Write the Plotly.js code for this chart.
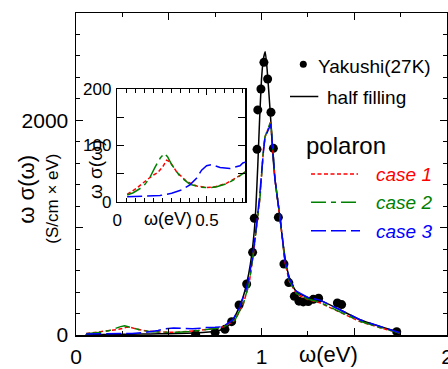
<!DOCTYPE html>
<html>
<head>
<meta charset="utf-8">
<script src="https://cdn.plot.ly/plotly-3.0.1.min.js"></script>
<style>html,body{margin:0;padding:0;background:#fff;}#plot{width:448px;height:369px;}</style>
</head>
<body>
<div id="plot"></div>
<script>
// ---- Data ----
const dotsX = [0.645, 0.75, 0.803, 0.839, 0.879, 0.92, 0.952, 0.961, 0.976, 0.98, 0.997, 1.013, 1.033, 1.051, 1.064, 1.091, 1.121, 1.147, 1.177, 1.202, 1.225, 1.252, 1.279, 1.308, 1.409, 1.432, 1.729];
const dotsY = [8, 25, 53, 124, 280, 475, 770, 1087, 1730, 2097, 2292, 2540, 2385, 2075, 1739, 1096, 661, 488, 360, 315, 308, 312, 332, 342, 298, 283, 31];

const halfX = [0.05, 0.1, 0.2, 0.3, 0.4, 0.5, 0.6, 0.7, 0.75, 0.8, 0.84, 0.88, 0.9, 0.92, 0.94, 0.96, 0.97, 0.98, 0.99, 1.0, 1.01, 1.02, 1.03, 1.04, 1.05, 1.064, 1.073, 1.1, 1.12, 1.14, 1.16, 1.19, 1.25, 1.315, 1.423, 1.531, 1.639, 1.729, 1.75];
const halfY = [0, 2, 5, 8, 10, 12, 16, 25, 35, 60, 120, 260, 350, 480, 660, 950, 1200, 1580, 2020, 2380, 2570, 2640, 2480, 2250, 2000, 1620, 1444, 1087, 800, 600, 490, 400, 350, 325, 235, 142, 80, 32, 20];

const case1X = [0.055, 0.108, 0.15, 0.182, 0.229, 0.255, 0.275, 0.294, 0.331, 0.387, 0.443, 0.498, 0.55, 0.61, 0.66, 0.70, 0.75, 0.8, 0.857, 0.902, 0.933, 0.956, 0.98, 0.992, 1.01, 1.019, 1.05, 1.064, 1.073, 1.1, 1.127, 1.15, 1.19, 1.25, 1.315, 1.423, 1.531, 1.639, 1.729, 1.75];
const case1Y = [13, 24, 35, 43, 53, 63, 74, 71, 53, 36, 28, 25, 27, 33, 42, 51, 60, 78, 138, 290, 475, 755, 1080, 1280, 1720, 1845, 1985, 1650, 1444, 1087, 675, 500, 380, 330, 300, 212, 125, 68, 25, 15];

const case2X = [0.055, 0.089, 0.145, 0.18, 0.21, 0.24, 0.262, 0.28, 0.303, 0.35, 0.405, 0.461, 0.498, 0.55, 0.61, 0.66, 0.70, 0.75, 0.8, 0.857, 0.902, 0.933, 0.956, 0.98, 0.992, 1.01, 1.019, 1.05, 1.064, 1.073, 1.1, 1.127, 1.15, 1.19, 1.25, 1.315, 1.423, 1.531, 1.639, 1.729, 1.75];
const case2Y = [12, 16, 27, 42, 61, 78, 86, 80, 66, 45, 31, 26, 25, 26, 32, 41, 50, 60, 78, 140, 292, 478, 758, 1085, 1285, 1722, 1848, 1992, 1650, 1444, 1087, 678, 505, 385, 335, 305, 215, 128, 70, 26, 15];

const case3X = [0.055, 0.145, 0.238, 0.303, 0.359, 0.405, 0.443, 0.47, 0.498, 0.526, 0.573, 0.628, 0.684, 0.70, 0.75, 0.79, 0.845, 0.88, 0.92, 0.95, 0.975, 0.99, 1.01, 1.019, 1.05, 1.064, 1.073, 1.1, 1.127, 1.15, 1.19, 1.25, 1.315, 1.423, 1.531, 1.639, 1.729, 1.75];
const case3Y = [9, 10, 11, 15, 21, 30, 42, 56, 64, 66, 61, 59, 64, 69, 72, 77, 140, 250, 440, 700, 1050, 1300, 1700, 1840, 1965, 1650, 1444, 1095, 690, 520, 405, 350, 325, 235, 142, 80, 30, 18];

const xTickVals = [0, 0.5, 1, 1.5, 2];
const xTickText = ['0', '', '1', '', '2'];
const yTickVals = [0, 1000, 2000, 3000];
const yTickText = ['0', '', '2000', ''];
const insetXTickVals = [0, 0.5];
const insetXTickText = ['0', '0.5'];
const insetYTickVals = [0, 50, 100, 150, 200];
const insetYTickText = ['0', '', '100', '', '200'];

// ---- Layout helpers (pixel -> paper) ----
const L = 76, R = 447, T = 13, B = 335;
const W = R - L, H = B - T;
const px = x => (x - L) / W;
const py = y => (B - y) / H;
const FONT = 'Liberation Sans, Arial, sans-serif';

const red = '#ff0000', green = '#008000', blue = '#0000ff';

const traces = [
  {x: dotsX, y: dotsY, mode: 'markers', type: 'scatter', marker: {color: 'black', size: 9}, xaxis: 'x', yaxis: 'y'},
  {x: halfX, y: halfY, mode: 'lines', type: 'scatter', line: {color: 'black', width: 1.5, shape: 'spline', smoothing: 0.5}, xaxis: 'x', yaxis: 'y'},
  {x: case1X, y: case1Y, mode: 'lines', type: 'scatter', line: {color: red, width: 1.5, dash: '4px,2.5px'}, xaxis: 'x', yaxis: 'y'},
  {x: case2X, y: case2Y, mode: 'lines', type: 'scatter', line: {color: green, width: 1.5, dash: '15px,5px,5px,5px'}, xaxis: 'x', yaxis: 'y'},
  {x: case3X, y: case3Y, mode: 'lines', type: 'scatter', line: {color: blue, width: 1.5, dash: '15px,5px'}, xaxis: 'x', yaxis: 'y'},
  {x: case1X, y: case1Y, mode: 'lines', type: 'scatter', line: {color: red, width: 1.5, dash: '4px,2.5px'}, xaxis: 'x2', yaxis: 'y2'},
  {x: case2X, y: case2Y, mode: 'lines', type: 'scatter', line: {color: green, width: 1.5, dash: '15px,5px,5px,5px'}, xaxis: 'x2', yaxis: 'y2'},
  {x: case3X, y: case3Y, mode: 'lines', type: 'scatter', line: {color: blue, width: 1.5, dash: '15px,5px'}, xaxis: 'x2', yaxis: 'y2'}
];

const axisCommon = {
  showline: true, linecolor: 'black', linewidth: 1.5, mirror: 'allticks',
  ticks: 'inside', tickcolor: 'black', tickwidth: 1, showgrid: false, zeroline: false,
  tickmode: 'array', fixedrange: true, ticklabeloverflow: 'allow'
};

const layout = {
  width: 448, height: 369,
  margin: {l: L, r: 448 - R, t: T, b: 369 - B, pad: 0},
  paper_bgcolor: 'white', plot_bgcolor: 'white',
  showlegend: false,
  font: {family: FONT, color: 'black'},
  xaxis: Object.assign({}, axisCommon, {
    range: [0, 2], tickvals: xTickVals, ticktext: xTickText, ticklen: 7,
    tickfont: {size: 21, family: FONT}, ticklabelstandoff: 2,
    minor: {dtick: 0.25, tick0: 0, ticks: 'inside', ticklen: 4, tickcolor: 'black', tickwidth: 1, showgrid: false},
    anchor: 'y', domain: [0, 1]
  }),
  yaxis: Object.assign({}, axisCommon, {
    range: [0, 3000], tickvals: yTickVals, ticktext: yTickText, ticklen: 7,
    tickfont: {size: 21, family: FONT}, ticklabelstandoff: 2,
    minor: {dtick: 200, tick0: 0, ticks: 'inside', ticklen: 4, tickcolor: 'black', tickwidth: 1, showgrid: false},
    anchor: 'x', domain: [0, 1]
  }),
  xaxis2: Object.assign({}, axisCommon, {
    range: [0, 0.712], tickvals: insetXTickVals, ticktext: insetXTickText, ticklen: 6,
    tickfont: {size: 17, family: FONT}, ticklabelstandoff: 2,
    minor: {dtick: 0.05, tick0: 0, ticks: 'inside', ticklen: 4, tickcolor: 'black', tickwidth: 1, showgrid: false},
    anchor: 'y2', domain: [px(117.3), px(245)]
  }),
  yaxis2: Object.assign({}, axisCommon, {
    range: [0, 200], tickvals: insetYTickVals, ticktext: insetYTickText, ticklen: 7,
    tickfont: {size: 17, family: FONT}, ticklabelstandoff: 1,
    anchor: 'x2', domain: [py(201.7), py(89.3)]
  }),
  shapes: [
    // inset background
    {type: 'rect', xref: 'paper', yref: 'paper', x0: px(117.3), x1: px(245), y0: py(201.7), y1: py(89.3), fillcolor: 'white', line: {width: 0}, layer: 'below'},
    // legend symbols
    {type: 'circle', xref: 'paper', yref: 'paper', xsizemode: 'pixel', ysizemode: 'pixel', xanchor: px(303.3), yanchor: py(64.3), x0: -3.5, x1: 3.5, y0: -3.5, y1: 3.5, fillcolor: 'black', line: {color: 'black', width: 0}},
    {type: 'line', xref: 'paper', yref: 'paper', x0: px(290), x1: px(318.3), y0: py(96.5), y1: py(96.5), line: {color: 'black', width: 1.5}},
    {type: 'line', xref: 'paper', yref: 'paper', x0: px(311), x1: px(358), y0: py(174), y1: py(174), line: {color: red, width: 1.5, dash: '4px,2.5px'}},
    {type: 'line', xref: 'paper', yref: 'paper', x0: px(311), x1: px(359), y0: py(202.3), y1: py(202.3), line: {color: green, width: 1.5, dash: '15px,5px,5px,5px'}},
    {type: 'line', xref: 'paper', yref: 'paper', x0: px(311), x1: px(360), y0: py(230.7), y1: py(230.7), line: {color: blue, width: 1.5, dash: '15px,5px'}}
  ],
  annotations: [
    {text: 'ω(eV)', xref: 'paper', yref: 'paper', x: px(328), y: py(355), showarrow: false, font: {size: 22, family: FONT}, xanchor: 'center', yanchor: 'middle'},
    {text: 'ω σ(ω)', xref: 'paper', yref: 'paper', x: px(26.7), y: py(189), showarrow: false, textangle: -90, font: {size: 22, family: FONT}, xanchor: 'center', yanchor: 'middle'},
    {text: '(S/cm × eV)', xref: 'paper', yref: 'paper', x: px(51.7), y: py(199), showarrow: false, textangle: -90, font: {size: 17, family: FONT}, xanchor: 'center', yanchor: 'middle'},
    {text: 'ω(eV)', xref: 'paper', yref: 'paper', x: px(167.5), y: py(218.5), showarrow: false, font: {size: 18, family: FONT}, xanchor: 'center', yanchor: 'middle'},
    {text: 'ω σ(ω)', xref: 'paper', yref: 'paper', x: px(95), y: py(170), showarrow: false, textangle: -90, font: {size: 19, family: FONT}, xanchor: 'center', yanchor: 'middle'},
    {text: 'Yakushi(27K)', xref: 'paper', yref: 'paper', x: px(316), y: py(66.5), showarrow: false, font: {size: 19, family: FONT}, xanchor: 'left', yanchor: 'middle'},
    {text: 'half filling', xref: 'paper', yref: 'paper', x: px(325), y: py(97), showarrow: false, font: {size: 19, family: FONT}, xanchor: 'left', yanchor: 'middle'},
    {text: 'polaron', xref: 'paper', yref: 'paper', x: px(304), y: py(145), showarrow: false, font: {size: 24, family: FONT}, xanchor: 'left', yanchor: 'middle'},
    {text: '<i>case 1</i>', xref: 'paper', yref: 'paper', x: px(434), y: py(174), showarrow: false, font: {size: 19, family: FONT, color: red}, xanchor: 'right', yanchor: 'middle'},
    {text: '<i>case 2</i>', xref: 'paper', yref: 'paper', x: px(434), y: py(202.7), showarrow: false, font: {size: 19, family: FONT, color: green}, xanchor: 'right', yanchor: 'middle'},
    {text: '<i>case 3</i>', xref: 'paper', yref: 'paper', x: px(434), y: py(231), showarrow: false, font: {size: 19, family: FONT, color: blue}, xanchor: 'right', yanchor: 'middle'}
  ]
};

Plotly.newPlot('plot', traces, layout, {displayModeBar: false, staticPlot: true});
</script>
</body>
</html>
